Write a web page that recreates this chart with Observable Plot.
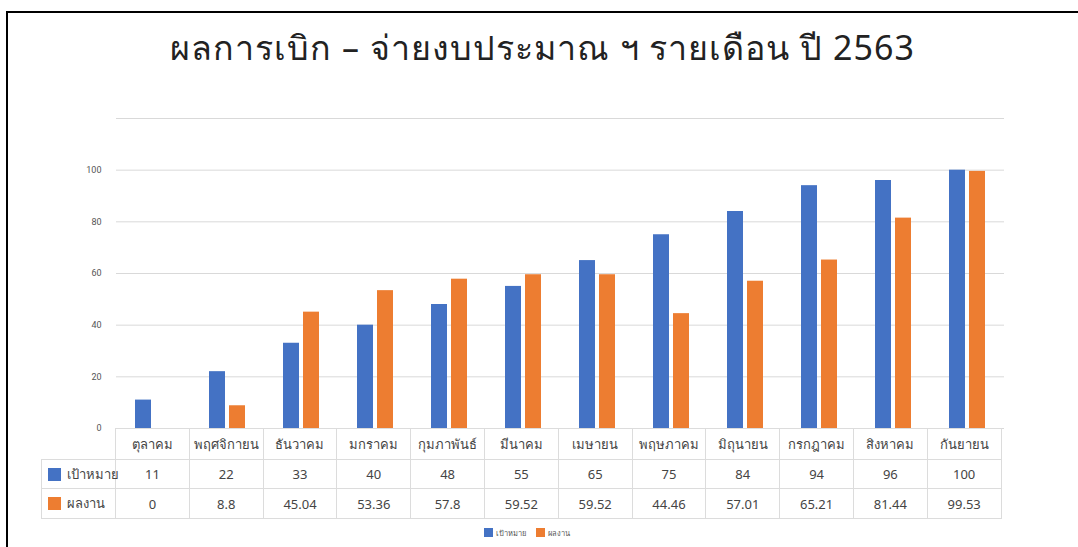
<!DOCTYPE html>
<html>
<head>
<meta charset="utf-8">
<script src="https://cdn.jsdelivr.net/npm/d3@7"></script>
<script src="https://cdn.jsdelivr.net/npm/@observablehq/plot@0.6"></script>
<style>
  html, body { margin: 0; padding: 0; background: #fff; }
  body { width: 1078px; height: 547px; position: relative; overflow: hidden; font-family: "Noto Sans", Roboto, "DejaVu Sans", sans-serif; }
  #frame { position: absolute; left: 6px; top: 11px; width: 1200px; height: 700px; border-left: 2px solid #000; border-top: 2px solid #000; }
  #title { position: absolute; left: 0; top: 21px; width: 1085px; text-align: center; font-size: 34px; letter-spacing: 1px; color: #222; white-space: nowrap; }
  #chart { position: absolute; left: 0; top: 100px; }
  #table { position: absolute; left: 41px; top: 428px; border-collapse: collapse; table-layout: fixed; width: 960px; font-size: 13px; color: #444; }
  #table td { border: 1px solid #dcdcdc; text-align: center; padding: 0; overflow: visible; white-space: nowrap; }
  #table td.rh { text-align: left; }
  #table tr.head td.rh { border: none; border-right: 1px solid #dcdcdc; }
  .sw { display: inline-block; width: 13px; height: 13px; vertical-align: -2px; margin: 0 6px 0 6px; }
  #legend { position: absolute; left: 0; width: 1053px; top: 527px; text-align: center; font-size: 7.5px; color: #555; white-space: nowrap; }
  #legend .lsw { display: inline-block; width: 9px; height: 9px; vertical-align: -1px; margin-right: 3px; }
  #legend span.item { margin: 0 5px; }
</style>
</head>
<body>
<div id="frame"></div>
<div id="title">ผลการเบิก – จ่ายงบประมาณ ฯ รายเดือน ปี 2563</div>
<div id="chart"></div>
<table id="table"></table>
<div id="legend"></div>
<script>
const months = ["ตุลาคม","พฤศจิกายน","ธันวาคม","มกราคม","กุมภาพันธ์","มีนาคม","เมษายน","พฤษภาคม","มิถุนายน","กรกฎาคม","สิงหาคม","กันยายน"];
const seriesNames = ["เป้าหมาย","ผลงาน"];
const target = [11,22,33,40,48,55,65,75,84,94,96,100];
const actual = [0,8.8,45.04,53.36,57.8,59.52,59.52,44.46,57.01,65.21,81.44,99.53];
const colors = ["#4472C4","#ED7D31"];
const yTicks = [0,20,40,60,80,100];
const gridTicks = [0,20,40,60,80,100,120];

const seriesValues = [target, actual];
const data = [];
months.forEach((m, i) => {
  seriesNames.forEach((s, j) => data.push({month: m, series: s, value: seriesValues[j][i]}));
});

const plot = Plot.plot({
  width: 1078,
  height: 345,
  marginLeft: 115,
  marginRight: 73,
  marginTop: 18,
  marginBottom: 17,
  style: {fontFamily: "Roboto, 'Noto Sans', sans-serif", background: "transparent"},
  fx: {domain: months, padding: 0, axis: null},
  x: {domain: seriesNames, paddingInner: 0.19, paddingOuter: 0.86, axis: null},
  y: {domain: [0, 120]},
  color: {domain: seriesNames, range: colors},
  marks: [
    Plot.gridY(gridTicks, {stroke: "#d9d9d9", strokeOpacity: 1, strokeWidth: 1}),
    Plot.axisY(yTicks, {tickSize: 0, tickPadding: 15, fontSize: 9, color: "#555", label: null}),
    Plot.barY(data, {fx: "month", x: "series", y: "value", fill: "series"})
  ]
});
document.getElementById("chart").appendChild(plot);

// data table
const table = document.getElementById("table");
const colW = 73.8;
let html = '<colgroup><col style="width:74px">' + months.map(() => `<col style="width:${colW}px">`).join("") + '</colgroup>';
html += '<tr class="head" style="height:31px"><td class="rh"></td>' + months.map(m => `<td>${m}</td>`).join("") + "</tr>";
seriesNames.forEach((s, j) => {
  html += `<tr style="height:${j === 0 ? 29 : 30}px"><td class="rh"><span class="sw" style="background:${colors[j]}"></span>${s}</td>` +
    seriesValues[j].map(v => `<td>${v}</td>`).join("") + "</tr>";
});
table.innerHTML = html;

// legend
document.getElementById("legend").innerHTML = seriesNames.map((s, j) =>
  `<span class="item"><span class="lsw" style="background:${colors[j]}"></span>${s}</span>`).join("");
</script>
</body>
</html>
